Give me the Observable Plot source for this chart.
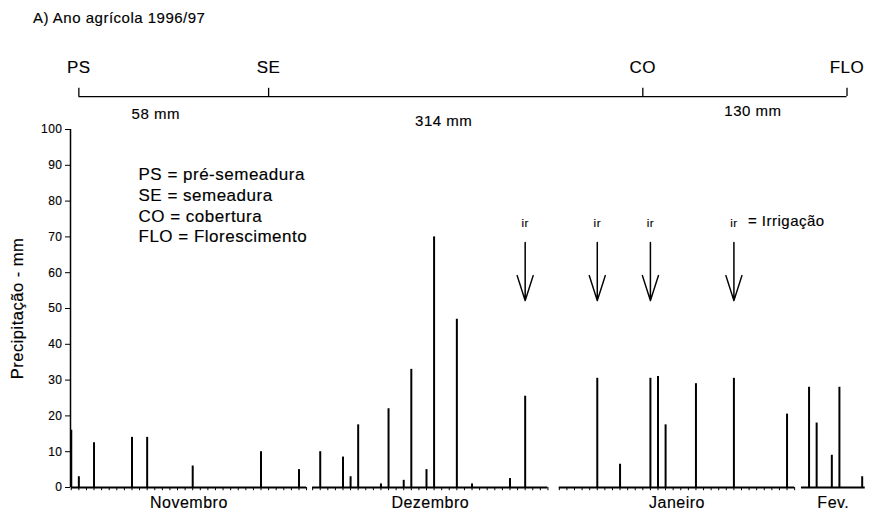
<!DOCTYPE html>
<html><head><meta charset="utf-8">
<script src="https://cdn.jsdelivr.net/npm/d3@7"></script>
<script src="https://cdn.jsdelivr.net/npm/@observablehq/plot@0.6"></script>
<style>
body{margin:0;background:#fff;font-family:"Liberation Sans",Arial,sans-serif;color:#000;}
#title{height:36px;line-height:36px;padding-left:33px;font-size:15px;letter-spacing:0.5px;-webkit-text-stroke:0.15px #000;}
#chart svg{display:block;}
#chart svg text{letter-spacing:0.5px;stroke:#000;stroke-width:0.15px;}
</style></head><body>
<div id="title">A) Ano agrícola 1996/97</div>
<div id="chart"></div>
<script>
// ---- data ----
const months = ["Novembro", "Dezembro", "Janeiro", "Fev."];
const monthStart = [0.1, 31.9, 64.4, 96.3];   // start of each month's row on the broken day axis
const monthSpan = [31, 31, 31, 8.4];
const monthDayTicks = [31, 31, 31, 0];

const novPos = [0, 1, 3, 8, 10, 16, 25, 30];
const novRain = [16, 3, 12.5, 14, 14, 6, 10, 5];
const decPos = [1, 4, 5, 6, 9, 10, 12, 13, 15, 16, 19, 21, 26, 28];
const decRain = [10, 8.5, 3, 17.5, 1, 22, 2, 33, 5, 70, 47, 1, 2.5, 25.5];
const janPos = [5, 8, 12, 13, 14, 18, 23, 30];
const janRain = [30.5, 6.5, 30.5, 31, 17.5, 29, 30.5, 20.5];
const febPos = [1, 2, 4, 5, 8];
const febRain = [28, 18, 9, 28, 3];

const phases = ["PS", "SE", "CO", "FLO"];
const phaseMonth = ["Novembro", "Novembro", "Janeiro", "Fev."];
const phasePos = [1, 26, 11, 6];
const phaseRain = ["58 mm", "314 mm", "130 mm"];

const irrMonth = ["Dezembro", "Janeiro", "Janeiro", "Janeiro"];
const irrPos = [28, 5, 12, 23];

const legendLines = ["PS = pré-semeadura", "SE = semeadura", "CO = cobertura", "FLO = Florescimento"];
const yTicks = [0, 10, 20, 30, 40, 50, 60, 70, 80, 90, 100];

// ---- derived tables ----
const startOf = Object.fromEntries(months.map((m, i) => [m, monthStart[i]]));
const monthRows = months.map((m, i) => ({name: m, start: monthStart[i], end: monthStart[i] + monthSpan[i]}));
const dayTicks = months.flatMap((m, i) => d3.range(monthDayTicks[i] + (monthDayTicks[i] ? 1 : 0)).map(j => ({x: monthStart[i] + j})));
const rain = [
  ...novPos.map((p, i) => ({x: startOf["Novembro"] + p, v: novRain[i]})),
  ...decPos.map((p, i) => ({x: startOf["Dezembro"] + p, v: decRain[i]})),
  ...janPos.map((p, i) => ({x: startOf["Janeiro"] + p, v: janRain[i]})),
  ...febPos.map((p, i) => ({x: startOf["Fev."] + p, v: febRain[i]}))
];
const phaseRows = phases.map((p, i) => ({name: p, x: startOf[phaseMonth[i]] + phasePos[i]}));
const amountRows = phaseRain.map((t, i) => ({text: t, x: (phaseRows[i].x + phaseRows[i + 1].x) / 2}));
const irrRows = irrMonth.map((m, i) => ({x: startOf[m] + irrPos[i]}));

const phaseLevel = 109.2;  // y level of the phase line (above the 0-100 frame)
const irrLevel = 52.2;     // y level of irrigation arrow tips

const font = "Liberation Sans, Arial, sans-serif";
const arrowShape = {draw(ctx, l) { ctx.moveTo(0, 0); ctx.lineTo(0, -l); ctx.moveTo(-8, -25); ctx.lineTo(0, 0); ctx.lineTo(8, -25); }};

const amountDx = [-18, -12, 8], amountDy = [18, 25, 15];

const chart = Plot.plot({
  width: 880,
  height: 488,
  marginLeft: 70,
  marginRight: 13,
  marginTop: 93,
  marginBottom: 37,
  style: {fontFamily: font, color: "#000", background: "#fff"},
  x: {domain: [0, 105], axis: null},
  y: {domain: [0, 100]},
  marks: [
    Plot.axisY({ticks: yTicks, tickSize: 5, tickPadding: 3, fontSize: 12, label: null, stroke: "#000"}),
    Plot.ruleX([0], {stroke: "#000", strokeWidth: 1.5}),
    Plot.text(["Precipitação - mm"], {frameAnchor: "left", textAnchor: "middle", rotate: -90, dx: -53, fontSize: 16.5, fill: "#000"}),
    // baselines + day ticks
    Plot.ruleY(monthRows, {y: 0, x1: "start", x2: "end", stroke: "#000", strokeWidth: 2}),
    Plot.ruleX(dayTicks, {x: "x", y1: 0, y2: -0.9, stroke: "#000", strokeWidth: 1}),
    Plot.text(monthRows, {x: d => (d.start + d.end) / 2, y: 0, dy: 15, text: "name", fontSize: 16, fill: "#000"}),
    // rain bars
    Plot.ruleX(rain, {x: "x", y1: 0, y2: "v", stroke: "#000", strokeWidth: 2}),
    // phase line
    Plot.ruleY([phaseLevel], {x1: phaseRows[0].x, x2: phaseRows[phaseRows.length - 1].x, stroke: "#000", strokeWidth: 1.3}),
    Plot.ruleX(phaseRows, {x: "x", y1: phaseLevel, y2: phaseLevel + 2.3, stroke: "#000", strokeWidth: 1.3}),
    Plot.text(phaseRows, {x: "x", y: phaseLevel, dy: -29, text: "name", fontSize: 17, fill: "#000"}),
    ...amountRows.map((d, i) => Plot.text([d], {x: "x", y: phaseLevel, dx: amountDx[i], dy: amountDy[i], text: "text", fontSize: 15, fill: "#000"})),
    // legend
    Plot.text([legendLines.join("\n")], {frameAnchor: "top-left", dx: 68, dy: 36, textAnchor: "start", lineAnchor: "top", lineHeight: 1.22, fontSize: 17, fill: "#000"}),
    // irrigation arrows
    Plot.vector(irrRows, {x: "x", y: irrLevel, length: 58, anchor: "start", shape: arrowShape, stroke: "#000", strokeWidth: 1.5}),
    Plot.text(irrRows, {x: "x", y: irrLevel, dy: -77, text: () => "ir", fontSize: 11.5, fill: "#000"}),
    Plot.text(irrRows.slice(-1), {x: "x", y: irrLevel, dy: -79, dx: 14, text: () => "= Irrigação", textAnchor: "start", fontSize: 15, fill: "#000"})
  ]
});
document.getElementById("chart").append(chart);
</script>
</body></html>
